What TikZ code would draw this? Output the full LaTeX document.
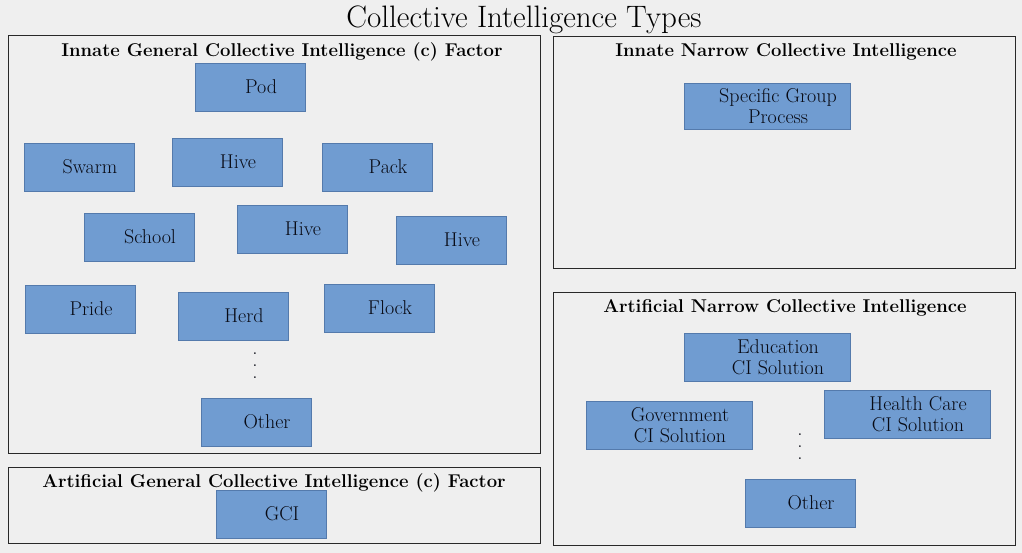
\documentclass[tikz,border=0pt]{standalone}
\usepackage{amsmath,amssymb}
\usepackage{fontspec}
\usepackage{tikz}

\definecolor{bgcol}{RGB}{239,239,239}
\definecolor{boxfill}{RGB}{112,156,209}
\definecolor{boxline}{RGB}{84,122,172}
\definecolor{panelline}{RGB}{40,40,40}
\definecolor{textcol}{RGB}{8,10,20}

\begin{document}
\begin{tikzpicture}[x=1pt, y=-1pt,
		panel_style/.style={draw=panelline, line width=0.9pt},
		title_style/.style={font=\fontsize{18.5}{21}\selectfont\bfseries, text=black},
		box_style/.style={draw=boxline, fill=boxfill, line width=0.8pt,
			minimum width=110pt, minimum height=48pt, inner sep=0pt},
		wide_style/.style={box_style, minimum width=166pt, minimum height=46pt},
		text_style/.style={xshift=11pt, align=center, text=textcol,
			font=\fontsize{20}{21}\selectfont},
		dots_style/.style={align=center, text=textcol, inner sep=0pt,
			font=\fontsize{12}{12}\selectfont\bfseries}]

		% page and background
		\fill[bgcol] (0,0) rectangle (1022,553);
		\useasboundingbox (0,0) rectangle (1022,553);

		\node[font=\fontsize{31}{34}\selectfont] (main) at (524,20) {Collective Intelligence Types};

		% panels
		\draw[panel_style] (8,35) rectangle (540,453);
		\draw[panel_style] (8,467) rectangle (540,543);
		\draw[panel_style] (553,36) rectangle (1015,268);
		\draw[panel_style] (553,292) rectangle (1015,545);

		\node[title_style] (t1) at (282,52)  {Innate General Collective Intelligence (c) Factor};
		\node[title_style] (t2) at (274,483) {Artificial General Collective Intelligence (c) Factor};
		\node[title_style] (t3) at (786,52)  {Innate Narrow Collective Intelligence};
		\node[title_style] (t4) at (785,308) {Artificial Narrow Collective Intelligence};

		% innate general
		\node[box_style, label={[text_style]center:Pod}]    (pod)    at (250,87)  {};
		\node[box_style, label={[text_style]center:Swarm}]  (swarm)  at (79,167)  {};
		\node[box_style, label={[text_style]center:Hive}]   (hive1)  at (227,162) {};
		\node[box_style, label={[text_style]center:Pack}]   (pack)   at (377,167) {};
		\node[box_style, label={[text_style]center:School}] (school) at (139,237) {};
		\node[box_style, label={[text_style]center:Hive}]   (hive2)  at (292,229) {};
		\node[box_style, label={[text_style]center:Hive}]   (hive3)  at (451,240) {};
		\node[box_style, label={[text_style]center:Pride}]  (pride)  at (80,309)  {};
		\node[box_style, label={[text_style]center:Herd}]   (herd)   at (233,316) {};
		\node[box_style, label={[text_style]center:Flock}]  (flock)  at (379,308) {};
		\node[box_style, label={[text_style]center:Other}]  (other1) at (256,422) {};
		\node[dots_style] (dots1) at (255,366) {.\\.\\.};

		% artificial general
		\node[box_style, label={[text_style]center:GCI}] (gci) at (271,514) {};

		% innate narrow
		\node[wide_style, label={[text_style]center:Specific Group\\Process}] (sgp) at (767,106) {};

		% artificial narrow
		\node[wide_style, minimum height=48pt, label={[text_style]center:Education\\CI Solution}]   (edu) at (767,357) {};
		\node[wide_style, minimum height=48pt, label={[text_style]center:Government\\CI Solution}]  (gov) at (669,425) {};
		\node[wide_style, minimum height=48pt, label={[text_style]center:Health Care\\CI Solution}] (hcs) at (907,414) {};
		\node[box_style, label={[text_style]center:Other}] (other2) at (800,503) {};
		\node[dots_style] (dots2) at (800,447) {.\\.\\.};
		\end{tikzpicture}
\end{document}
